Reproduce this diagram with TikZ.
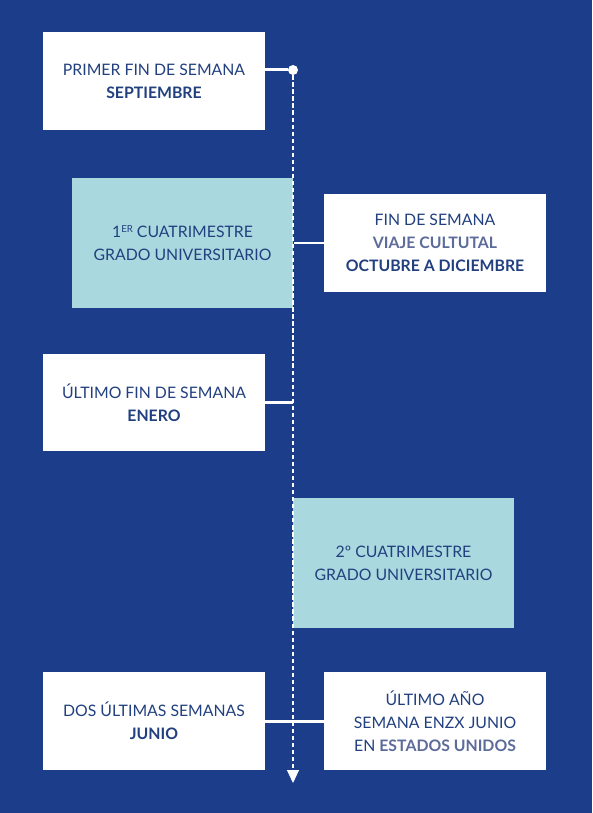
\documentclass[tikz,border=0pt]{standalone}
\usepackage{fontspec}
\setmainfont{Lato}
\usetikzlibrary{arrows.meta}
\definecolor{navy}{HTML}{1B3D8A}
\definecolor{ink}{HTML}{22407F}
\definecolor{slate}{HTML}{5C6B99}
\definecolor{aqua}{HTML}{A9D9DF}
\newcommand{\sups}[1]{\raisebox{0.55ex}{\fontsize{5.5}{6}\selectfont #1}}
\tikzset{
  card/.style={fill=white, minimum width=4.44cm, minimum height=1.96cm, inner sep=0pt, text=ink, align=center, font=\fontsize{9}{13}\selectfont},
  term/.style={card, fill=aqua, minimum height=2.6cm},
  link/.style={white, line width=1.7pt},
}
\begin{document}
\begin{tikzpicture}[x=0.02cm, y=-0.02cm]
\fill[navy] (0,0) rectangle (592,813);
\node[card] (sep) at (154,81){PRIMER FIN DE SEMANA\\\textbf{SEPTIEMBRE}};
\node[term] (cuat1) at (182.5,243){1\sups{ER} CUATRIMESTRE\\GRADO UNIVERSITARIO};
\node[card] (viaje) at (435,243){FIN DE SEMANA\\\textbf{\color{slate}VIAJE CULTUTAL}\\\textbf{OCTUBRE A DICIEMBRE}};
\node[card] (enero) at (154,402.5){ÚLTIMO FIN DE SEMANA\\\textbf{ENERO}};
\node[term] (cuat2) at (403.5,563){2º CUATRIMESTRE\\GRADO UNIVERSITARIO};
\node[card] (junio) at (154,721){DOS ÚLTIMAS SEMANAS\\\textbf{JUNIO}};
\node[card] (eeuu) at (435,721){ÚLTIMO AÑO\\SEMANA ENZX JUNIO\\EN \textbf{\color{slate}ESTADOS UNIDOS}};
\node[circle, fill=white, inner sep=0pt, minimum size=0.2cm] (tid0) at (293,70){};
\coordinate (tid1) at (293,783);
\draw[white, line width=0.6pt, dash pattern=on 2.5pt off 1.5pt, -{Triangle[width=0.24cm, length=0.26cm]}] (tid0) -- (tid1);
\draw[link] (sep.east |- tid0) -- (tid0);
\draw[link] (cuat1.east) -- (viaje.west);
\draw[link] (enero.east) -- (enero.east -| tid0);
\draw[link] (junio.east) -- (eeuu.west);
\end{tikzpicture}
\end{document}
